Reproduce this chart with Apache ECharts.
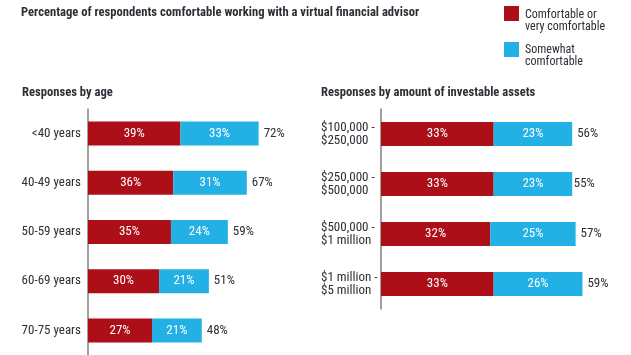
<!DOCTYPE html>
<html>
<head>
<meta charset="utf-8">
<script src="https://cdn.jsdelivr.net/npm/echarts@6/dist/echarts.min.js"></script>
<style>
html,body{margin:0;padding:0;background:#fff;}
#chart{width:631px;height:355px;}
</style>
</head>
<body>
<div id="chart"></div>
<script>
// Data
const ageCategories = ['<40 years', '40-49 years', '50-59 years', '60-69 years', '70-75 years'];
const ageComfortable = [39, 36, 35, 30, 27];
const ageSomewhat = [33, 31, 24, 21, 21];
const ageTotal = [72, 67, 59, 51, 48];

const assetCategories = ['$100,000 -\n$250,000', '$250,000 -\n$500,000', '$500,000 -\n$1 million', '$1 million -\n$5 million'];
const assetComfortable = [33, 33, 32, 33];
const assetSomewhat = [23, 23, 25, 26];
const assetTotal = [56, 55, 57, 59];

const legendNames = ['Comfortable or\nvery comfortable', 'Somewhat\ncomfortable'];
const mainTitle = 'Percentage of respondents comfortable working with a virtual financial advisor';
const leftTitle = 'Responses by age';
const rightTitle = 'Responses by amount of investable assets';

const FONT = '"Roboto Condensed", "Open Sans Condensed", "DejaVu Sans Condensed", sans-serif';
const RED = '#ad0f18';
const BLUE = '#22b0e5';
const TEXT = '#2e2e36';

function barSeries(idx, name, data, color, stack) {
  return {
    type: 'bar', name: name, stack: stack, xAxisIndex: idx, yAxisIndex: idx,
    data: data, barWidth: 24,
    itemStyle: { color: color },
    label: { show: true, position: 'inside', color: '#fff', fontFamily: FONT, fontSize: 13, formatter: '{c}%' },
    silent: true
  };
}
function totalSeries(idx, data) {
  return {
    type: 'bar', xAxisIndex: idx, yAxisIndex: idx, data: data, barWidth: 24, barGap: '-100%',
    itemStyle: { color: 'rgba(0,0,0,0)' }, silent: true, z: 1,
    label: { show: true, position: 'right', distance: 5, color: TEXT, fontFamily: FONT, fontSize: 13, formatter: '{c}%' }
  };
}
function yAxis(idx, cats, align, margin) {
  return {
    type: 'category', gridIndex: idx, data: cats, inverse: true,
    axisLine: { show: true, lineStyle: { color: '#808080', width: 1.5 } },
    axisTick: { show: false },
    axisLabel: { color: TEXT, fontFamily: FONT, fontSize: 13, align: align, margin: margin, lineHeight: 12.5, overflow: 'none', hideOverlap: false }
  };
}
function xAxis(idx, max) {
  return { type: 'value', gridIndex: idx, min: 0, max: max, show: false };
}

const chart = echarts.init(document.getElementById('chart'), null, { renderer: 'canvas' });
const titleStyle = { fontFamily: FONT, fontSize: 12.6, fontWeight: 'bold', color: TEXT };
const option = {
  animation: false,
  backgroundColor: '#fff',
  title: [
    { text: mainTitle, left: 21, top: 6, padding: 0, textStyle: titleStyle },
    { text: leftTitle, left: 22, top: 86, padding: 0, textStyle: titleStyle },
    { text: rightTitle, left: 321, top: 86, padding: 0, textStyle: titleStyle }
  ],
  grid: [
    { left: 88, top: 109, width: 237, height: 250, containLabel: false },
    { left: 381, top: 109, width: 239, height: 200, containLabel: false }
  ],
  xAxis: [xAxis(0, 100), xAxis(1, 70)],
  yAxis: [yAxis(0, ageCategories, 'right', 7), yAxis(1, assetCategories, 'left', 60)],
  series: [
    barSeries(0, legendNames[0], ageComfortable, RED, 'age'),
    barSeries(0, legendNames[1], ageSomewhat, BLUE, 'age'),
    totalSeries(0, ageTotal),
    barSeries(1, legendNames[0], assetComfortable, RED, 'asset'),
    barSeries(1, legendNames[1], assetSomewhat, BLUE, 'asset'),
    totalSeries(1, assetTotal)
  ],
  graphic: [
    { type: 'rect', left: 504, top: 6, shape: { width: 15, height: 15 }, style: { fill: RED } },
    { type: 'text', left: 525, top: 9, style: { text: legendNames[0], font: '12px ' + FONT, fill: TEXT, lineHeight: 12 } },
    { type: 'rect', left: 504, top: 42, shape: { width: 15, height: 15 }, style: { fill: BLUE } },
    { type: 'text', left: 525, top: 44, style: { text: legendNames[1], font: '12px ' + FONT, fill: TEXT, lineHeight: 12 } }
  ]
};
chart.setOption(option);
</script>
</body>
</html>
